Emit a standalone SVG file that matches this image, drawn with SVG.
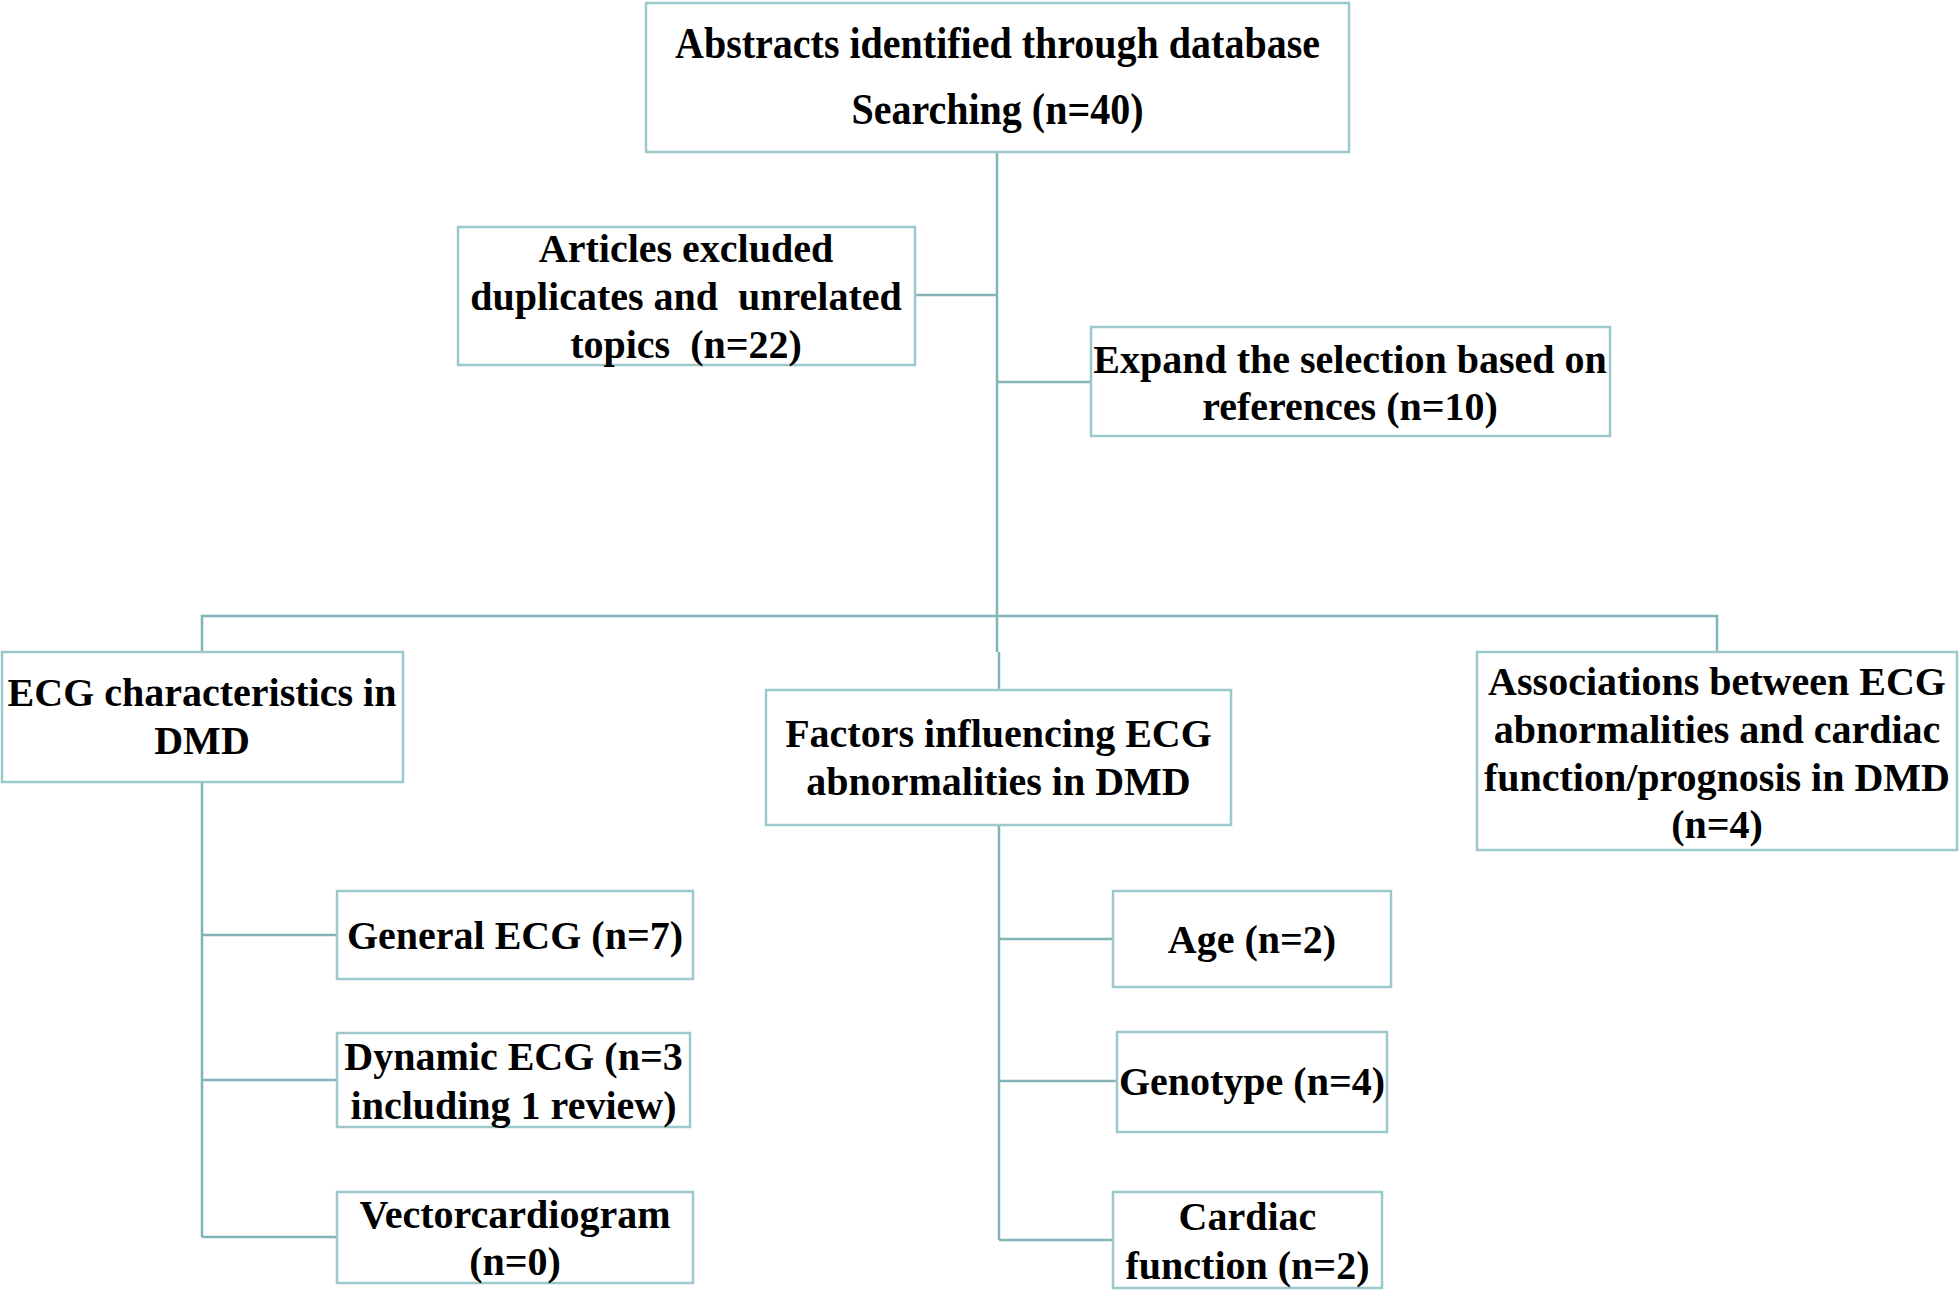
<svg xmlns="http://www.w3.org/2000/svg" width="1959" height="1290" viewBox="0 0 1959 1290">
<style>
.box{fill:#ffffff;stroke:#9cc8cb;stroke-width:2.5}
.ln{fill:none;stroke:#82b3b7;stroke-width:2.5}
text{font-family:"Liberation Serif","Times New Roman",serif;font-weight:bold;font-size:40px;fill:#000;text-anchor:middle}
</style>
<rect width="1959" height="1290" fill="#ffffff"/>
<g id="connectors">
<path class="ln" d="M997,152 V652 M999,652 V690"/>
<path class="ln" d="M915,295 H997 M997,382 H1091"/>
<path class="ln" d="M202,652 V616 H1717 V652"/>
<path class="ln" d="M202,782 V1237 M202,935 H337 M202,1080 H337 M202,1237 H337"/>
<path class="ln" d="M999,825 V1240 M999,939 H1113 M999,1081 H1117 M999,1240 H1113"/>
</g>
<g id="n-top">
<rect class="box" x="646" y="3" width="703" height="149"/>
<text x="997.5" y="58" style="font-size:45px" textLength="645" lengthAdjust="spacingAndGlyphs">Abstracts identified through database</text>
<text x="997.5" y="124" style="font-size:45px" textLength="292" lengthAdjust="spacingAndGlyphs">Searching (n=40)</text>
</g>
<g id="n-excluded">
<rect class="box" x="458" y="227" width="457" height="138"/>
<text x="686" y="262">Articles excluded</text>
<text x="686" y="310" xml:space="preserve">duplicates and  unrelated</text>
<text x="686" y="358" xml:space="preserve">topics  (n=22)</text>
</g>
<g id="n-expand">
<rect class="box" x="1091" y="327" width="519" height="109"/>
<text x="1350" y="373">Expand the selection based on</text>
<text x="1350" y="420">references (n=10)</text>
</g>
<g id="n-ecg">
<rect class="box" x="2" y="652" width="401" height="130"/>
<text x="202" y="706">ECG characteristics in</text>
<text x="202" y="754">DMD</text>
</g>
<g id="n-factors">
<rect class="box" x="766" y="690" width="465" height="135"/>
<text x="998.5" y="747">Factors influencing ECG</text>
<text x="998.5" y="795">abnormalities in DMD</text>
</g>
<g id="n-assoc">
<rect class="box" x="1477" y="652" width="480" height="198"/>
<text x="1717" y="695">Associations between ECG</text>
<text x="1717" y="743">abnormalities and cardiac</text>
<text x="1717" y="791">function/prognosis in DMD</text>
<text x="1717" y="838">(n=4)</text>
</g>
<g id="n-general">
<rect class="box" x="337" y="891" width="356" height="88"/>
<text x="515" y="949">General ECG (n=7)</text>
</g>
<g id="n-dynamic">
<rect class="box" x="337" y="1033" width="353" height="94"/>
<text x="513.5" y="1070">Dynamic ECG (n=3</text>
<text x="513.5" y="1119">including 1 review)</text>
</g>
<g id="n-vector">
<rect class="box" x="337" y="1192" width="356" height="91"/>
<text x="515" y="1228">Vectorcardiogram</text>
<text x="515" y="1275">(n=0)</text>
</g>
<g id="n-age">
<rect class="box" x="1113" y="891" width="278" height="96"/>
<text x="1252" y="953">Age (n=2)</text>
</g>
<g id="n-genotype">
<rect class="box" x="1117" y="1032" width="270" height="100"/>
<text x="1252" y="1095">Genotype (n=4)</text>
</g>
<g id="n-cardiac">
<rect class="box" x="1113" y="1192" width="269" height="96"/>
<text x="1247.5" y="1230">Cardiac</text>
<text x="1247.5" y="1279">function (n=2)</text>
</g>
</svg>
